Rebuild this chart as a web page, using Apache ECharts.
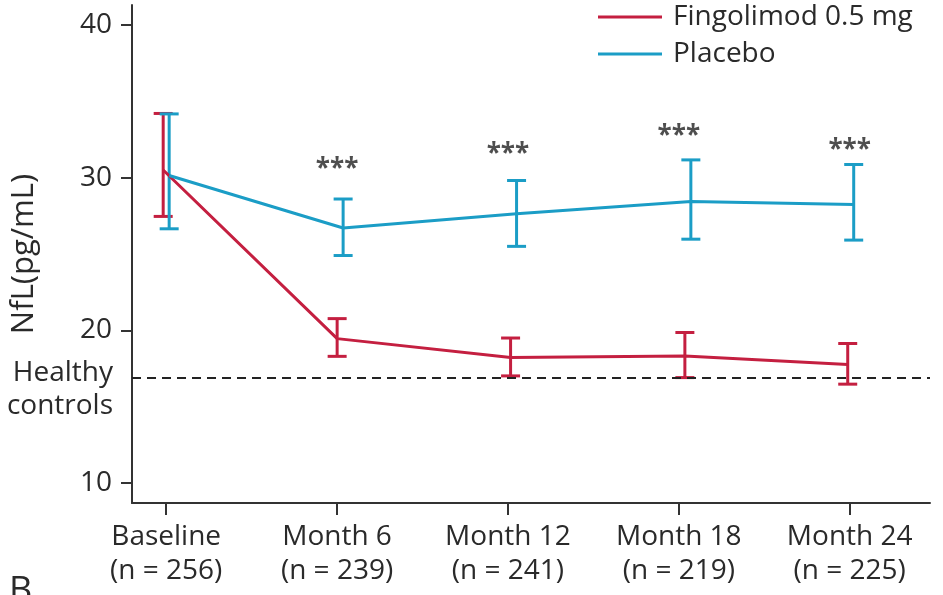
<!DOCTYPE html>
<html><head><meta charset="utf-8">
<script src="https://cdn.jsdelivr.net/npm/echarts@6/dist/echarts.min.js"></script>
<style>html,body{margin:0;padding:0;background:#fff}#c{width:943px;height:595px}</style>
</head><body><div id="c"></div>
<script>
const categories = ['Baseline\n(n = 256)', 'Month 6\n(n = 239)', 'Month 12\n(n = 241)', 'Month 18\n(n = 219)', 'Month 24\n(n = 225)'];
const visitX = [0, 1.018, 2.033, 3.053, 4.006];
const fingoMean = [30.5, 19.46, 18.22, 18.33, 17.77];
const fingoLow = [27.46, 18.3, 17.02, 16.91, 16.48];
const fingoHigh = [34.2, 20.77, 19.5, 19.86, 19.14];
const placeboMean = [30.14, 26.7, 27.63, 28.44, 28.24];
const placeboLow = [26.65, 24.9, 25.5, 25.97, 25.91];
const placeboHigh = [34.17, 28.6, 29.81, 31.16, 30.86];
const sigLabels = ['', '***', '***', '***', '***'];
const sigY = [null, 30.5, 31.48, 32.66, 31.8];
const healthyControls = 16.89;
const yTicks = [10, 20, 30, 40];

const RED = '#c41f40';
const BLUE = '#1b9dc6';
const TXT = '#2a2a2a';
const FONT = 'Open Sans';
const SHIFT = 0.0175;

function errorSeries(color, low, high, shift) {
  return {
    type: 'custom',
    data: low.map((l, i) => [visitX[i] + shift, l, high[i]]),
    encode: { x: 0, y: [1, 2] },
    silent: true,
    z: 3,
    renderItem(params, api) {
      const x = api.value(0);
      const lo = api.coord([x, api.value(1)]);
      const hi = api.coord([x, api.value(2)]);
      const w = 9.5;
      const st = { stroke: color, lineWidth: 3 };
      return { type: 'group', children: [
        { type: 'line', shape: { x1: lo[0], y1: lo[1], x2: hi[0], y2: hi[1] }, style: st },
        { type: 'line', shape: { x1: lo[0] - w, y1: lo[1], x2: lo[0] + w, y2: lo[1] }, style: st },
        { type: 'line', shape: { x1: hi[0] - w, y1: hi[1], x2: hi[0] + w, y2: hi[1] }, style: st }
      ]};
    }
  };
}

const chart = echarts.init(document.getElementById('c'));
chart.setOption({
  animation: false,
  textStyle: { fontFamily: FONT },
  title: { text: 'B', left: 9, top: 574, padding: 0, textStyle: { fontFamily: FONT, fontSize: 36, fontWeight: 'normal', color: TXT } },
  legend: {
    data: ['Fingolimod 0.5 mg', 'Placebo'],
    orient: 'vertical', left: 598, top: 2, padding: 0,
    icon: 'rect', itemWidth: 64, itemHeight: 3, itemGap: 7,
    textStyle: { fontFamily: FONT, fontSize: 28, lineHeight: 30, color: TXT, padding: [0, 0, 0, 6] }
  },
  grid: { left: 132, right: 13, top: 5, bottom: 92 },
  xAxis: {
    type: 'value', min: -0.2, max: 4.47,
    splitLine: { show: false },
    axisLine: { onZero: false, lineStyle: { color: '#333', width: 2 } },
    axisTick: { show: true, length: 12, lineStyle: { color: '#333', width: 2 }, customValues: [0, 1, 2, 3, 4] },
    axisLabel: { customValues: [0, 1, 2, 3, 4], formatter: v => categories[Math.round(v)], fontFamily: FONT, fontSize: 28, lineHeight: 34, color: TXT, margin: 17 }
  },
  yAxis: {
    type: 'value', min: 8.7, max: 41.3,
    name: 'NfL(pg/mL)', nameLocation: 'middle', nameGap: 92,
    nameTextStyle: { fontFamily: FONT, fontSize: 31, color: TXT },
    splitLine: { show: false },
    axisLine: { show: true, onZero: false, lineStyle: { color: '#333', width: 2 } },
    axisTick: { show: true, length: 11, lineStyle: { color: '#333', width: 2 }, customValues: yTicks },
    axisLabel: { customValues: yTicks, fontFamily: FONT, fontSize: 28, color: TXT, margin: 20 }
  },
  series: [
    {
      name: 'Fingolimod 0.5 mg', type: 'line', symbol: 'none', z: 4,
      data: fingoMean.map((v, i) => [visitX[i] - SHIFT, v]),
      lineStyle: { color: RED, width: 3 }, itemStyle: { color: RED },
      markLine: {
        silent: true, symbol: 'none',
        lineStyle: { color: '#222', type: [9, 6], width: 2.2 },
        label: {
          show: true, position: 'start', distance: 19,
          formatter: '{t|Healthy\ncontrols}',
          rich: { t: { fontFamily: FONT, fontSize: 28, lineHeight: 33, color: TXT, align: 'right', padding: [23, 0, 0, 0] } }
        },
        data: [{ yAxis: healthyControls }]
      }
    },
    {
      name: 'Placebo', type: 'line', symbol: 'none', z: 4,
      data: placeboMean.map((v, i) => [visitX[i] + SHIFT, v]),
      lineStyle: { color: BLUE, width: 3 }, itemStyle: { color: BLUE }
    },
    errorSeries(RED, fingoLow, fingoHigh, -SHIFT),
    errorSeries(BLUE, placeboLow, placeboHigh, SHIFT),
    {
      type: 'scatter', symbolSize: 0, silent: true,
      data: sigY.map((v, i) => v == null ? null : [i, v, sigLabels[i]]).filter(d => d),
      label: { show: true, position: 'inside', formatter: p => p.data[2], fontFamily: FONT, fontSize: 26, fontWeight: 'bold', color: '#222' }
    }
  ]
});
</script></body></html>
